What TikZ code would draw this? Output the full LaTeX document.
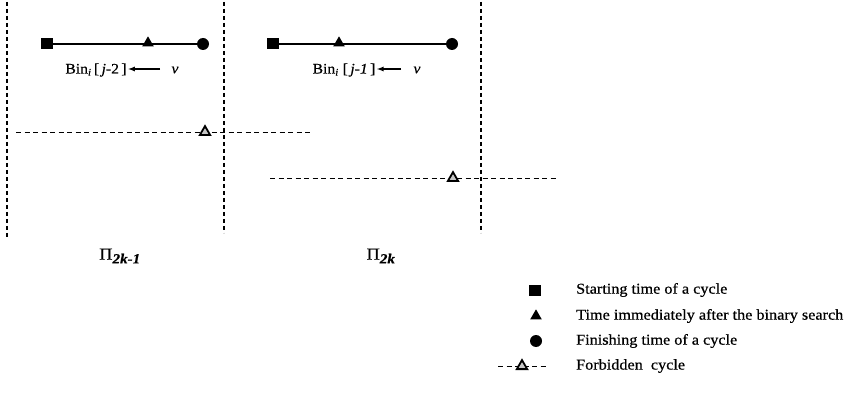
\documentclass[tikz,border=0pt]{standalone}
\usepackage{fontspec}
\setmainfont{Liberation Serif}[FakeStretch=1.08,FakeBold=0.6]
\usetikzlibrary{shapes.geometric,arrows.meta}
\tikzset{
  sqmark/.style={rectangle,fill=black,minimum width=12pt,minimum height=11pt,inner sep=0pt},
  trimark/.style={isosceles triangle,isosceles triangle apex angle=60,shape border rotate=90,fill=black,minimum size=10pt,inner sep=0pt},
  dotmark/.style={circle,fill=black,minimum size=12pt,inner sep=0pt},
  forbmark/.style={isosceles triangle,isosceles triangle apex angle=60,shape border rotate=90,draw=black,line width=1.8pt,fill=gray!45,minimum size=9pt,inner sep=0pt},
  cycle line/.style={line width=1.2pt},
  divider/.style={line width=1.1pt,dash pattern=on 4pt off 3pt},
  forbline/.style={line width=0.9pt,dash pattern=on 5pt off 3.5pt},
  binlabel/.style={font=\fontsize{14.5}{16}\selectfont,inner sep=1pt},
  pilabel/.style={font=\fontsize{17}{19}\selectfont},
  legtext/.style={font=\fontsize{15}{17}\selectfont,anchor=west,inner sep=0pt},
  leftarrow/.style={-{Latex[length=7pt,width=5pt]},line width=1.2pt}
}
\begin{document}
\begin{tikzpicture}[x=1pt,y=-1pt]
\useasboundingbox (0,0) rectangle (857,398);

% period dividers
\coordinate (d1t) at (7,2);   \coordinate (d1b) at (7,238);
\coordinate (d2t) at (224,2); \coordinate (d2b) at (224,233);
\coordinate (d3t) at (481,2); \coordinate (d3b) at (481,233);
\draw[divider] (d1t) -- (d1b);
\draw[divider] (d2t) -- (d2b);
\draw[divider] (d3t) -- (d3b);

% cycle in the first period
\node[sqmark]  (sq1)  at (47,44) {};
\node[dotmark] (ci1)  at (203,44) {};
\draw[cycle line] (sq1) -- (ci1);
\node[trimark] (tr1)  at (148,43) {};
\node[binlabel] (bin1) at (96,70) {Bin\textsubscript{\textit{i}}\,[\,\textit{j}-2\,]};
\node[binlabel] (v1) at (175,70) {\textit{v}};
\coordinate (a1s) at (160,69);
\draw[leftarrow] (a1s) -- (bin1.east |- a1s);

% cycle in the second period
\node[sqmark]  (sq2)  at (273,44) {};
\node[dotmark] (ci2)  at (452,44) {};
\draw[cycle line] (sq2) -- (ci2);
\node[trimark] (tr2)  at (339,43) {};
\node[binlabel] (bin2) at (344,70) {Bin\textsubscript{\textit{i}}\ [\,\textit{j-1}\,]};
\node[binlabel] (v2) at (417,70) {\textit{v}};
\coordinate (a2s) at (401,69);
\draw[leftarrow] (a2s) -- (bin2.east |- a2s);

% forbidden cycles
\coordinate (f1a) at (16,132);  \coordinate (f1b) at (310,132);
\draw[forbline] (f1a) -- (f1b);
\node[forbmark,anchor=south] (ft1) at (205,136) {};
\coordinate (f2a) at (270,178); \coordinate (f2b) at (557,178);
\draw[forbline] (f2a) -- (f2b);
\node[forbmark,anchor=south] (ft2) at (453,182) {};

% period labels
\node[pilabel] (p1) at (120,256) {Π\textsubscript{\fontsize{14}{16}\selectfont\textbf{\textit{2k-1}}}};
\node[pilabel] (p2) at (381,256) {Π\textsubscript{\fontsize{14}{16}\selectfont\textbf{\textit{2k}}}};

% legend
\node[sqmark]  (lsq) at (535,290) {};
\node[trimark] (ltr) at (536,316) {};
\node[dotmark] (ldo) at (536,341) {};
\coordinate (lfa) at (498,366); \coordinate (lfb) at (546,366);
\draw[forbline] (lfa) -- (lfb);
\node[forbmark,anchor=south] (lft) at (522,370) {};
\node[legtext] (t1) at (576,290) {Starting time of a cycle};
\node[legtext] (t2) at (576,316) {Time immediately after the binary search};
\node[legtext] (t3) at (576,341) {Finishing time of a cycle};
\node[legtext] (t4) at (576,366) {Forbidden\ \ cycle};
\end{tikzpicture}
\end{document}
